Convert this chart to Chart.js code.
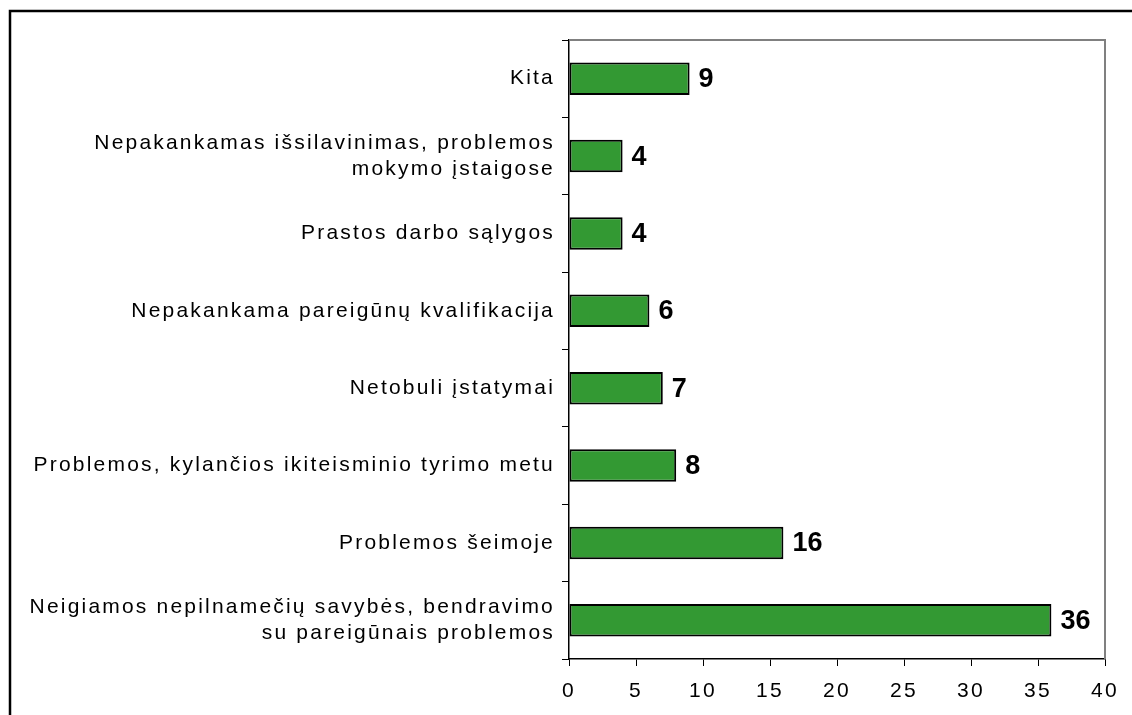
<!DOCTYPE html>
<html>
<head>
<meta charset="utf-8">
<script src="https://cdn.jsdelivr.net/npm/chart.js@4/dist/chart.umd.min.js"></script>
<style>
html,body{margin:0;padding:0;background:#fff;}
#wrap{position:relative;width:1132px;height:715px;}
canvas{display:block;}
</style>
</head>
<body>
<div id="wrap"><canvas id="c" width="1132" height="715"></canvas></div>
<script>
const categories = [
  ["Kita"],
  ["Nepakankamas išsilavinimas, problemos", "mokymo įstaigose"],
  ["Prastos darbo sąlygos"],
  ["Nepakankama pareigūnų kvalifikacija"],
  ["Netobuli įstatymai"],
  ["Problemos, kylančios ikiteisminio tyrimo metu"],
  ["Problemos šeimoje"],
  ["Neigiamos nepilnamečių savybės, bendravimo", "su pareigūnais problemos"]
];
const values = [9, 4, 4, 6, 7, 8, 16, 36];
const xTicks = [0, 5, 10, 15, 20, 25, 30, 35, 40];

const FONT = "'Liberation Sans', Arial, sans-serif";

const spacingPlugin = {
  id: 'spacing',
  beforeDraw(chart) {
    if ('letterSpacing' in chart.ctx) chart.ctx.letterSpacing = '2.2px';
  }
};

const framePlugin = {
  id: 'frame',
  afterDraw(chart) {
    const ctx = chart.ctx;
    const a = chart.chartArea;
    ctx.save();
    if ('letterSpacing' in ctx) ctx.letterSpacing = '0px';
    ctx.strokeStyle = '#808080';
    ctx.lineWidth = 2;
    ctx.beginPath();
    ctx.moveTo(a.left, a.top);
    ctx.lineTo(a.right, a.top);
    ctx.lineTo(a.right, a.bottom);
    ctx.stroke();
    ctx.strokeStyle = '#000';
    ctx.lineWidth = 2.5;
    ctx.beginPath();
    ctx.moveTo(10, chart.height + 5);
    ctx.lineTo(10, 11);
    ctx.lineTo(chart.width + 5, 11);
    ctx.stroke();
    const meta = chart.getDatasetMeta(0);
    ctx.fillStyle = '#000';
    ctx.font = "bold 27px " + FONT;
    ctx.textAlign = 'left';
    ctx.textBaseline = 'middle';
    meta.data.forEach((bar, i) => {
      ctx.fillText(String(chart.data.datasets[0].data[i]), bar.x + 9, bar.y + 1);
    });
    ctx.restore();
  }
};

new Chart(document.getElementById('c'), {
  type: 'bar',
  data: {
    labels: categories,
    datasets: [{
      data: values,
      backgroundColor: '#339933',
      borderColor: '#000',
      borderWidth: 2,
      borderSkipped: false,
      barPercentage: 0.42,
      categoryPercentage: 1.0
    }]
  },
  options: {
    indexAxis: 'y',
    responsive: false,
    animation: false,
    devicePixelRatio: 1,
    layout: { padding: { top: 40, right: 27, bottom: 0, left: 0 } },
    plugins: { legend: { display: false }, tooltip: { enabled: false } },
    scales: {
      x: {
        min: 0, max: 40,
        afterBuildTicks(scale) { scale.ticks = xTicks.map(v => ({ value: v })); },
        afterFit(scale) { scale.height = 56; },
        grid: { drawOnChartArea: false, tickLength: 7, color: '#000', lineWidth: 1 },
        border: { display: true, color: '#000', width: 1.5 },
        ticks: { color: '#000', font: { family: FONT, size: 21 }, padding: 13, maxRotation: 0 }
      },
      y: {
        afterFit(scale) { scale.width = 569; },
        grid: { drawOnChartArea: false, tickLength: 7, color: '#000', lineWidth: 1, offset: true },
        border: { display: true, color: '#000', width: 1.5 },
        ticks: { color: '#000', font: { family: FONT, size: 21, lineHeight: 1.25 }, padding: 7, autoSkip: false }
      }
    }
  },
  plugins: [spacingPlugin, framePlugin]
});
</script>
</body>
</html>
